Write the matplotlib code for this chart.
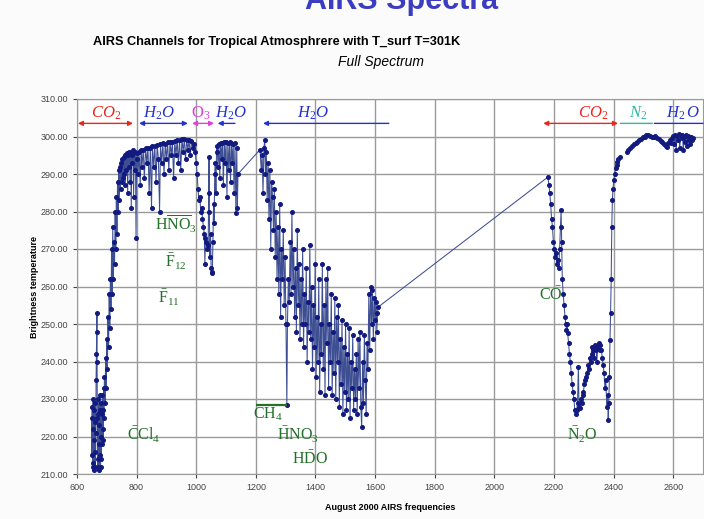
import numpy as np
import matplotlib
matplotlib.use("Agg")
import matplotlib.pyplot as plt

nan = float("nan")

# ---- data: (frequency cm-1, brightness temperature K) ----
co2_band_f = [649, 650, 651, 652, 653, 654, 655, 656, 657, 658, 659, 660, 661, 662, 663, 664, 665, 666, 667, 667.5,
              668, 669, 670, 671, 672, 673, 674, 675, 676, 677, 678, 679, 680, 681, 682, 683, 684, 685, 686, 687,
              688, 689, 690, 692, 694, 696, 698, 700, 702, 704, 706, 708, 710, 712, 714, 716, 718, 720, 722, 724,
              726, 728, 730, 732, 734, 736, 738, 740, 742, 744, 746, 748, 750, 752, 754, 756, 758, 760, 762, 764,
              766, 768, 770, 772, 774, 776, 778, 780, 782, 784, 786, 788, 790, 792, 794, 796, 798, 800]
co2_band_t = [225, 215, 228, 212, 222, 230, 213, 219, 227, 211, 224, 216, 229, 212, 221, 235, 242, 248, 253, 240,
              225, 212, 226, 214, 230, 218, 211, 223, 231, 215, 227, 212, 220, 229, 214, 226, 218, 231, 222, 227,
              219, 233, 225, 236, 229, 241, 233, 246, 238, 252, 244, 258, 249, 262, 254, 270, 258, 276, 262, 272,
              266, 280, 270, 284, 274, 288, 280, 291, 283, 292, 286, 293, 288, 294, 289, 294.5, 290, 295, 287, 295,
              291, 295.5, 285, 295, 292, 296, 288, 296, 281, 295, 293, 296.5, 284, 296, 291, 296, 273, 294]

window_f = [802, 805, 808, 812, 815, 818, 822, 826, 830, 834, 838, 842, 846, 850, 853, 857, 861, 865, 869, 873,
            877, 880, 884, 888, 892, 896, 900, 904, 908, 912, 916, 920, 924, 928, 932, 936, 940, 944, 948, 952,
            956, 960, 964, 968, 972, 976, 980, 984, 988, 992, 996, 1000]
window_t = [295.5, 290, 296, 287, 296.5, 292, 296.5, 289, 297, 293, 297, 285, 297, 281, 297.5, 292, 297.5, 288, 297.8, 294,
            280, 298, 293, 298.2, 290, 298, 294, 298.5, 291, 298.5, 295, 298.6, 289, 298.7, 295, 299, 293, 299.2, 291, 299.3,
            296, 299.3, 294, 299.2, 296.5, 299, 295, 298.8, 297, 298, 296, 293]

o3_f = [1003, 1006, 1009, 1012, 1015, 1018, 1021, 1024, 1027, 1029, 1031, 1034, 1037, 1040, 1042, 1043, 1044, 1046, 1048, 1050,
        1052, 1054, 1056, 1058, 1060, 1062, 1064, 1066, 1068, 1070, 1073, 1076, 1079, 1082, 1085, 1088, 1091, 1094, 1097, 1100,
        1103, 1106, 1109, 1112, 1115, 1118, 1121, 1124, 1127, 1130, 1133, 1136, 1138, 1140]
o3_t = [290, 286, 283, 284, 280, 281, 278, 276, 274, 266, 273, 272, 270, 271, 285, 294.5, 280, 268, 274, 265,
        263.5, 264, 272, 282, 277, 290, 293, 285, 296, 297.5, 292, 298, 289, 298.2, 294, 298.3, 287, 298.5, 293, 298.5,
        284, 298.4, 291, 298.5, 288, 298.3, 293, 298, 285, 298.2, 279.5, 297, 281, 290]

h2o_f = [1214, 1218, 1221, 1224, 1227, 1230, 1232, 1235, 1238, 1241, 1244, 1247, 1250, 1253, 1256, 1259, 1262, 1265, 1268, 1271,
         1274, 1277, 1280, 1283, 1286, 1289, 1292, 1295, 1298, 1301, 1304, 1306, 1309, 1312, 1315, 1318, 1321, 1324, 1327, 1330,
         1333, 1336, 1339, 1342, 1345, 1348, 1351, 1354, 1357, 1360, 1363, 1366, 1369, 1372, 1375, 1378, 1381, 1384, 1387, 1390,
         1393, 1396, 1399, 1402, 1405, 1408, 1411, 1414, 1417, 1420, 1423, 1426, 1429, 1432, 1435, 1438, 1441, 1444, 1447, 1450,
         1453, 1456, 1459, 1462, 1465, 1468, 1471, 1474, 1477, 1480, 1483, 1486, 1489, 1492, 1495, 1498, 1501, 1504, 1507, 1510,
         1513, 1516, 1519, 1522, 1525, 1528, 1531, 1534, 1537, 1540, 1543, 1546, 1549, 1552, 1555, 1558, 1561, 1564, 1567, 1570,
         1573, 1576, 1579, 1582, 1585, 1588, 1591, 1594, 1597, 1600, 1603, 1606, 1608, 1610]
h2o_t = [296.5, 291, 295, 285, 297, 299, 290, 296, 283, 293, 278, 291, 270, 288, 284, 275, 286, 268, 280, 262,
         276, 258, 282, 252, 270, 262, 275, 255, 268, 250, 228.5, 250, 262, 256, 272, 258, 280, 260, 270, 252,
         265, 248, 275, 255, 266, 246, 262, 250, 270, 244, 258, 250, 265, 240, 256, 248, 271, 246, 260, 238,
         255, 244, 266, 236, 252, 240, 262, 232, 250, 242, 266, 238, 255, 231, 262, 245, 265, 233, 250, 240,
         258, 231, 248, 237, 257, 230, 252, 240, 255, 228, 246, 234, 251, 226, 244, 232, 250, 227, 242, 230,
         249, 225, 240, 233, 247, 227, 238, 230, 242, 226, 246, 233, 248, 228, 222.5, 240, 229, 247, 235, 226,
         245, 238, 258, 243, 260, 250, 259, 246, 257, 251, 256, 248, 253, 254.5]

sw_f = [2180, 2183, 2186, 2189, 2192, 2195, 2198, 2201, 2204, 2207, 2210, 2213, 2216, 2219, 2222, 2224, 2226, 2228, 2231, 2234,
        2237, 2240, 2242, 2244, 2246, 2249, 2252, 2255, 2258, 2261, 2264, 2267, 2270, 2273, 2276, 2279, 2282, 2284, 2287, 2290,
        2293, 2296, 2299, 2302, 2305, 2308, 2311, 2314, 2317, 2320, 2323, 2326, 2329, 2332, 2335, 2338, 2341, 2344, 2347, 2350,
        2353, 2356, 2359, 2362, 2365, 2368, 2371, 2374, 2377, 2380, 2382, 2384, 2386, 2388, 2390, 2392, 2394, 2396, 2398, 2401,
        2404, 2407, 2410, 2413, 2416, 2420]
sw_t = [289.2, 287, 285, 282, 278, 276, 272, 270, 268, 269, 266, 267, 265, 270, 276, 280.5, 272, 262, 258, 255,
        252, 250, 248.5, 250, 247.5, 245, 242, 240, 237, 234, 232, 230, 227, 226, 227, 229, 238.5, 228, 227.5, 230,
        229, 231, 232, 234, 235, 236, 237, 239, 238, 241, 240, 242, 244, 243, 241, 244.5, 243, 240, 244, 245,
        243, 244.5, 243, 241, 239, 237, 233, 235, 228, 231, 224.5, 229, 236, 245.7, 252.9, 262, 276, 283, 286, 288.5,
        290, 291.5, 292.5, 293.3, 294, 294.5]

n2_f = [2444, 2450, 2456, 2462, 2468, 2474, 2480, 2486, 2492, 2498, 2504, 2510, 2516, 2522, 2528, 2534, 2540, 2546, 2552, 2558,
        2564, 2570, 2576, 2580, 2584, 2588, 2592, 2596, 2600, 2604, 2607, 2610, 2613, 2616, 2619, 2622, 2625, 2628, 2631, 2634,
        2637, 2640, 2643, 2646, 2649, 2652, 2655, 2658, 2661, 2664, 2667]
n2_t = [296, 296.5, 297, 297.6, 298, 298.3, 298.6, 299, 299.4, 299.8, 300, 300.3, 300.3, 300.1, 299.8, 300, 300.2, 299.6, 299.3, 298.8,
        298.5, 298, 297.6, 297.3, 298.2, 299, 298.4, 299.5, 300.1, 298, 300.5, 296.3, 300.2, 299, 300.6, 297, 300.3, 299.5, 300.5, 296.5,
        300, 298.5, 300.4, 297.5, 300.2, 299, 300, 298, 299.8, 299, 299.6]

freq = co2_band_f + window_f + o3_f + h2o_f + sw_f + [nan] + n2_f
temp = co2_band_t + window_t + o3_t + h2o_t + sw_t + [nan] + n2_t

xticks = [600, 800, 1000, 1200, 1400, 1600, 1800, 2000, 2200, 2400, 2600]
yticks = [210, 220, 230, 240, 250, 260, 270, 280, 290, 300, 310]

# band labels: (text, colour, start, end, arrowstyle, label x)
bands = [
    (r"$CO_2$", "#e8281e", 603, 788, "<|-|>", 697),
    (r"$H_2O$", "#2233cc", 808, 972, "<|-|>", 876),
    (r"$\mathrm{O}_3$", "#e040d8", 986, 1060, "<|-|>", 1016),
    (r"$H_2O$", "#2233cc", 1072, 1130, "<|-", 1118),
    (r"$H_2O$", "#2233cc", 1224, 1646, "<|-", 1393),
    (r"$CO_2$", "#e8281e", 2164, 2415, "<|-|>", 2332),
    (r"$N_2$", "#30b8a0", 2423, 2530, "-", 2483),
    (r"$H_2\,O$", "#2233cc", 2537, 2700, "-", 2634),
]

# gas labels: (mathtext, x, y)
gases = [
    (r"$\mathrm{H}\overline{\mathrm{NO}}_\mathrm{3}$", 932, 276.7),
    (r"$\bar{\mathrm{F}}_\mathrm{12}$", 932, 266.5),
    (r"$\bar{\mathrm{F}}_\mathrm{11}$", 909, 257.0),
    (r"$\bar{\mathrm{C}}\mathrm{Cl}_\mathrm{4}$", 825, 220.4),
    (r"$\mathrm{CH}_\mathrm{4}$", 1241, 225.8),
    (r"$\bar{\mathrm{H}}\mathrm{NO}_\mathrm{3}$", 1342, 220.4),
    (r"$\mathrm{H}\bar{\mathrm{D}}\mathrm{O}$", 1382, 214.3),
    (r"$\mathrm{C}\bar{\mathrm{O}}$", 2191, 258.0),
    (r"$\bar{\mathrm{N}}_\mathrm{2}\mathrm{O}$", 2296, 220.4),
]

plt.rcParams["mathtext.fontset"] = "custom"
plt.rcParams["mathtext.rm"] = "Liberation Serif"
plt.rcParams["mathtext.it"] = "Liberation Serif:italic"
plt.rcParams["mathtext.bf"] = "Liberation Serif:bold"
plt.rcParams["font.family"] = ["Liberation Sans", "DejaVu Sans"]

fig = plt.figure(figsize=(7.04, 5.19), dpi=100, facecolor="#fbfbfb")
ax = fig.add_axes([77 / 704, 1 - 474 / 519, 626 / 704, 375 / 519])
ax.set_facecolor("white")

ax.plot(freq, temp, "-", color="#3e4e92", lw=0.75, marker="o", ms=2.6,
        mfc="#121a80", mec="#121a80", zorder=3)

ax.set_xlim(600, 2700)
ax.set_ylim(210, 310)
ax.set_xticks(xticks)
ax.set_yticks(yticks)
ax.set_yticklabels([f"{v:.2f}" for v in yticks])
ax.tick_params(labelsize=6.5, colors="#444444", length=3, width=0.8)
ax.grid(True, color="#9a9a9a", lw=1.0)
for s in ax.spines.values():
    s.set_color("#9a9a9a")
ax.set_axisbelow(True)

ax.set_xlabel("August 2000 AIRS frequencies", fontsize=6.5, fontweight="bold", labelpad=8)
ax.set_ylabel("Brightness temperature", fontsize=6.5, fontweight="bold", labelpad=1)

for txt, col, x0, x1, style, lx in bands:
    ax.annotate("", xy=(x1, 303.5), xytext=(x0, 303.5),
                arrowprops=dict(arrowstyle=style, color=col, lw=1.0, mutation_scale=7,
                                shrinkA=0, shrinkB=0), zorder=4)
    ax.text(lx, 306.3, txt, color=col, fontsize=12, ha="center", va="center", zorder=4)

green = "#23702a"
for txt, x, y in gases:
    ax.text(x, y, txt, color=green, fontsize=11.5, ha="center", va="center", zorder=5)
ax.hlines(228.4, 1200, 1305, color=green, lw=1.6, zorder=5)

fig.text(277 / 704, 1 - 42 / 519, "AIRS Channels for Tropical Atmosphrere with T_surf T=301K",
         ha="center", va="center", fontsize=9.2, fontweight="bold")
fig.text(381 / 704, 1 - 62 / 519, "Full Spectrum", ha="center", va="center",
         fontsize=10, style="italic")
fig.text(402 / 704, 1 - 1 / 519, "AIRS Spectra", ha="center", va="center",
         fontsize=22, fontweight="bold", color="#3c3cc0")

fig.savefig("out.png", dpi=100, facecolor=fig.get_facecolor())
